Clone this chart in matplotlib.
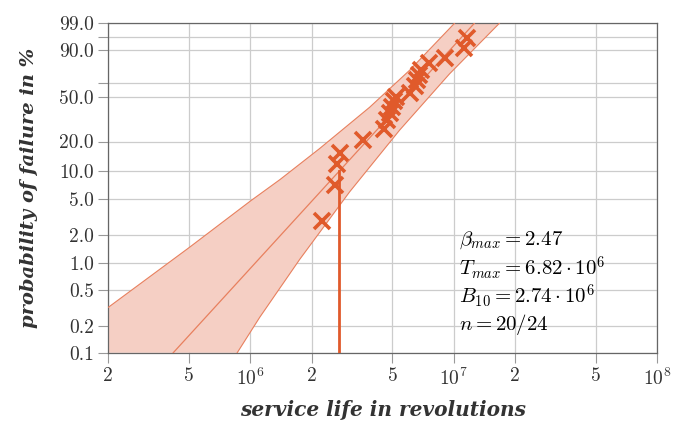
import numpy as np
import matplotlib.pyplot as plt

plt.rcParams['font.family'] = 'serif'
plt.rcParams['font.serif'] = ['cmr10']
plt.rcParams['mathtext.fontset'] = 'cm'
plt.rcParams['axes.unicode_minus'] = False

# failures: service life in revolutions and failure probability in %
life = [2.24e6, 2.60e6, 2.66e6, 2.75e6, 3.57e6, 4.53e6, 4.69e6, 4.85e6, 4.96e6, 5.07e6,
        5.18e6, 6.08e6, 6.43e6, 6.58e6, 6.73e6, 6.88e6, 7.54e6, 9.03e6, 1.13e7, 1.17e7]
prob = [2.9, 7.0, 11.7, 15.5, 20.5, 26.2, 32.4, 37.4, 42.1, 46.3,
        50.6, 54.2, 60.7, 66.4, 71.0, 75.5, 81.4, 85.2, 91.5, 95.9]

# fitted weibull line (end points)
fit_life = [4.17e5, 1.265e7]
fit_prob = [0.1, 99.0]

# confidence band edges
upper_life = [2e5, 5e5, 1e6, 1.4e6, 2.19e6, 3.86e6, 6.08e6, 1.01e7]
upper_prob = [0.32, 1.47, 4.75, 8.1, 17.0, 41.5, 75.0, 99.0]
lower_life = [8.61e5, 1.113e6, 1.75e6, 3.08e6, 5.43e6, 9.55e6, 1.68e7]
lower_prob = [0.1, 0.249, 1.09, 5.98, 25.9, 71.7, 99.0]

b10 = 2.74e6

yticks = [0.1, 0.2, 0.5, 1.0, 2.0, 5.0, 10.0, 20.0, 50.0, 63.2, 90.0, 96.0, 99.0]
ytick_labels = ['0.1', '0.2', '0.5', '1.0', '2.0', '5.0', '10.0', '20.0', '50.0', '',
                '90.0', '', '99.0']
xticks = [2e5, 5e5, 1e6, 2e6, 5e6, 1e7, 2e7, 5e7, 1e8]
xtick_labels = ['2', '5', '$10^6$', '2', '5', '$10^7$', '2', '5', '$10^8$']

stats = [r'$\beta_{max} = 2.47$', r'$T_{max} = 6.82 \cdot 10^6$',
         r'$B_{10} = 2.74 \cdot 10^6$', r'$n = 20/24$']

c = '#e05a2b'


def weib(p):
    p = np.clip(np.asarray(p, dtype=float), 1e-6, 99.99999)
    return np.log(-np.log(1 - p / 100))


def weib_inv(y):
    return 100 * (1 - np.exp(-np.exp(y)))


fig = plt.figure(figsize=(6.73, 4.23), dpi=100)
ax = fig.add_axes([0.161, 0.166, 0.815, 0.779])
ax.set_xscale('log')
ax.set_yscale('function', functions=(weib, weib_inv))

poly_x = [upper_life[0]] + upper_life + lower_life[::-1]
poly_y = [0.1] + upper_prob + lower_prob[::-1]
ax.fill(poly_x, poly_y, color='#f5cfc4', lw=0, zorder=2)
ax.plot(upper_life, upper_prob, color='#e8805e', lw=0.8, zorder=3)
ax.plot(lower_life, lower_prob, color='#e8805e', lw=0.8, zorder=3)
ax.plot(fit_life, fit_prob, color='#e8805e', lw=0.9, zorder=3)
ax.plot([b10, b10], [0.1, 10.0], color=c, lw=2, zorder=4)
ax.plot(life, prob, 'x', ms=11, mew=2.6, color=c, zorder=5)

ax.set_xlim(2e5, 1e8)
ax.set_ylim(0.1, 99.0)
ax.set_xticks(xticks)
ax.set_xticklabels(xtick_labels)
ax.xaxis.set_minor_locator(plt.NullLocator())
ax.set_yticks(yticks)
ax.set_yticklabels(ytick_labels)
ax.yaxis.set_minor_locator(plt.NullLocator())
ax.tick_params(labelsize=14, length=7, width=0.8, color='#999999', labelcolor='#333333',
               direction='out')
ax.grid(True, color='#cccccc', lw=0.9, zorder=0)
ax.set_axisbelow(True)
for s in ax.spines.values():
    s.set_color('#666666')
    s.set_linewidth(0.9)

for i, s in enumerate(stats):
    ax.text(0.64, 0.342 - i * 0.085, s, transform=ax.transAxes, fontsize=15,
            va='center', ha='left', color='black', zorder=6)

ax.set_xlabel('service life in revolutions', fontsize=14.5, family='DejaVu Serif',
              fontweight='bold', fontstyle='italic', color='#333333', labelpad=8)
ax.set_ylabel('probability of failure in %', fontsize=14, family='DejaVu Serif',
              fontweight='bold', fontstyle='italic', color='#333333', labelpad=15)

fig.savefig('out.png', dpi=100)
